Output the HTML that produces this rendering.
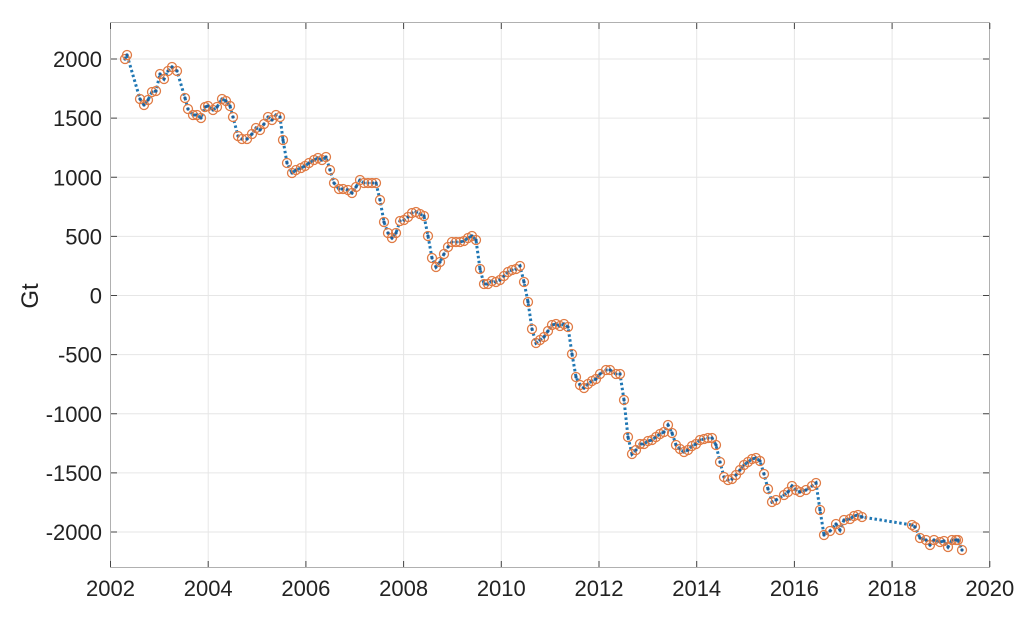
<!DOCTYPE html>
<html><head><style>body{margin:0;background:#fff}svg{display:block}</style></head><body>
<svg width="1024" height="618" xmlns="http://www.w3.org/2000/svg" font-family="Liberation Sans, sans-serif">
<rect width="1024" height="618" fill="#fff"/>
<g id="grid" stroke="#e6e6e6" stroke-width="1"></g>
<rect x="110.5" y="22.5" width="879" height="545" fill="none" stroke="#b0b0b0"/>
<g id="ticks" stroke="#444" stroke-width="1"></g>
<g id="lab" font-size="22" fill="#222"></g>
<text x="38" y="296" font-size="24" fill="#222" text-anchor="middle" transform="rotate(-90 38 296)">Gt</text>
<polyline id="ln" fill="none" stroke="#1f77b4" stroke-width="3" stroke-dasharray="2.5 2.5"/>
<g id="mk"></g>
<script>
var ns="http://www.w3.org/2000/svg";
function el(t,a,p,txt){var e=document.createElementNS(ns,t);for(var k in a)e.setAttribute(k,a[k]);if(txt)e.textContent=txt;document.getElementById(p).appendChild(e);}
for(var i=0;i<=9;i++){var x=110.5+i*97.7;if(i>0&&i<9)el('line',{x1:x,x2:x,y1:23,y2:567},'grid');el('line',{x1:x,x2:x,y1:567,y2:561},'ticks');el('line',{x1:x,x2:x,y1:23,y2:29},'ticks');el('text',{x:x,y:596,'text-anchor':'middle'},'lab',String(2002+2*i));}
for(var v=-2000;v<=2000;v+=500){var y=295.5-v*0.11825;el('line',{x1:111,x2:989,y1:y,y2:y},'grid');el('line',{x1:111,x2:117,y1:y,y2:y},'ticks');el('line',{x1:989,x2:983,y1:y,y2:y},'ticks');el('text',{x:102,y:y+8,'text-anchor':'end'},'lab',String(v));}
var p=[[125,59],[127,55],[140,99],[144,105],[148,100],[152,92],[156,91],[160,74],[164,79],[168,71],[172,67],[177,71],[185,98],[188,109],[193,115],[197,115],[201,118],[205,107],[208,106],[213,110],[217,107],[222,99],[226,101],[230,106],[233,117],[238,136],[242,139],[247,139],[252,134],[256,128],[260,130],[264,124],[268,117],[272,120],[276,115],[280,117],[283,140],[287,163],[292,173],[296,170],[301,168],[305,166],[309,163],[314,160],[318,158],[322,160],[326,157],[330,170],[334,183],[339,189],[343,189],[348,190],[352,193],[356,187],[360,180],[364,183],[368,183],[372,183],[376,183],[380,200],[384,222],[388,233],[392,238],[396,233],[400,221],[404,220],[408,217],[412,213],[416,212],[420,214],[424,216],[428,236],[432,258],[436,267],[440,262],[444,254],[448,247],[452,242],[456,242],[460,242],[464,241],[468,238],[472,236],[476,240],[480,269],[484,284],[488,284],[492,281],[496,282],[500,280],[504,276],[508,272],[512,270],[516,269],[520,266],[524,282],[528,302],[532,329],[536,343],[540,340],[544,337],[548,331],[552,325],[556,324],[560,326],[564,324],[568,327],[572,354],[576,377],[580,385],[584,388],[588,384],[592,381],[596,379],[600,374],[606,370],[610,370],[616,374],[620,374],[624,400],[628,437],[632,454],[636,450],[640,444],[644,444],[648,441],[652,440],[656,437],[660,434],[664,432],[668,425],[672,433],[676,445],[680,449],[684,452],[688,450],[692,446],[696,444],[700,440],[704,439],[708,438],[712,438],[716,445],[720,462],[724,477],[728,480],[732,479],[736,475],[740,470],[744,465],[748,462],[752,459],[756,458],[760,461],[764,474],[768,489],[772,502],[776,500],[784,495],[788,492],[792,486],[796,490],[800,492],[806,490],[812,486],[816,483],[820,510],[824,535],[830,531],[836,524],[840,530],[844,520],[850,519],[854,516],[858,515],[862,517],[912,525],[915,527],[920,538],[926,540],[930,545],[934,540],[940,542],[944,541],[948,547],[952,540],[956,540],[958,540],[962,550]];
document.getElementById('ln').setAttribute('points',p.map(function(a){return a.join(',')}).join(' '));
p.forEach(function(a){el('circle',{cx:a[0],cy:a[1],r:4.5,fill:'none',stroke:'#e07b45','stroke-width':1.3},'mk');el('circle',{cx:a[0],cy:a[1],r:1.6,fill:'#1f5f99'},'mk');});
</script>
</svg>
</body></html>
